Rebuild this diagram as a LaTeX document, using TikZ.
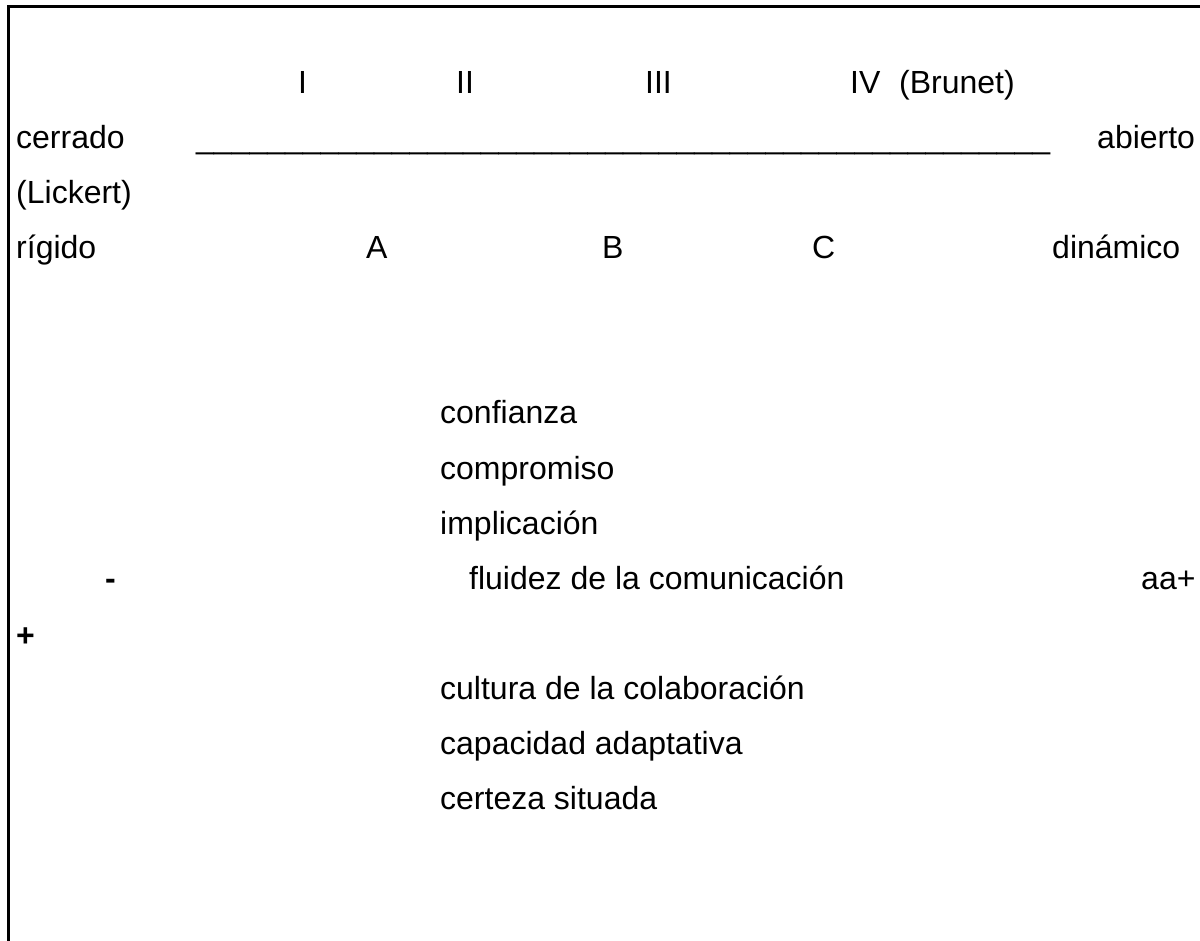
\documentclass[tikz,border=0pt]{standalone}
\usepackage{fontspec}
\setmainfont{Liberation Sans}
\begin{document}
\begin{tikzpicture}[x=1pt,y=-1pt,
  lbl/.style={anchor=base west, inner sep=0pt, font=\fontsize{32}{38}\selectfont},
  blbl/.style={lbl, font=\fontsize{32}{38}\selectfont\bfseries}]
\useasboundingbox (0,0) rectangle (1200,941);
% frame (open to the right and below)
\coordinate (fb) at (8,941);
\coordinate (fc) at (8,7);
\coordinate (fr) at (1200,7);
\draw[line width=3pt] (fb) -- (fc) -- (fr);
% scale header
\node[lbl] (n1) at (298,94) {I};
\node[lbl] (n2) at (456,94) {II};
\node[lbl] (n3) at (645,94) {III};
\node[lbl] (n4) at (850,94) {IV};
\node[lbl] (brunet) at (899,94) {(Brunet)};
\node[lbl] (cerrado) at (16,149) {cerrado};
\node[lbl] (rule) at (196,149) {\_\_\_\_\_\_\_\_\_\_\_\_\_\_\_\_\_\_\_\_\_\_\_\_\_\_\_\_\_\_\_\_\_\_\_\_\_\_\_\_\_\_\_\_\_\_\_\_};
\node[lbl] (abierto) at (1097,149) {abierto};
\node[lbl] (lickert) at (16,204) {(Lickert)};
\node[lbl] (rigido) at (16,259) {rígido};
\node[lbl] (a) at (366,259) {A};
\node[lbl] (b) at (602,259) {B};
\node[lbl] (c) at (812,259) {C};
\node[lbl] (dinamico) at (1052,259) {dinámico};
% qualities list
\node[lbl] (q1) at (440,424) {confianza};
\node[lbl] (q2) at (440,479) {compromiso};
\node[lbl] (q3) at (440,534) {implicación};
\node[blbl] (minus) at (105,589) {-};
\node[lbl] (q4) at (469,589) {fluidez de la comunicación};
\node[lbl] (plusr) at (1141,589) {aa+};
\node[blbl] (plusl) at (16,646) {+};
\node[lbl] (q5) at (440,699) {cultura de la colaboración};
\node[lbl] (q6) at (440,754) {capacidad adaptativa};
\node[lbl] (q7) at (440,809) {certeza situada};
\end{tikzpicture}
\end{document}
